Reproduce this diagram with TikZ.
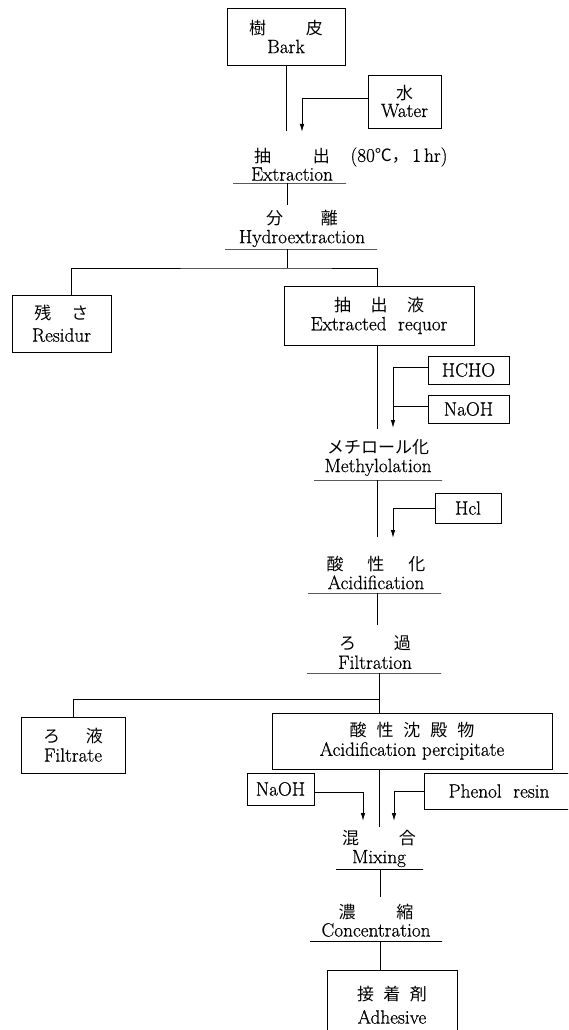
\documentclass[tikz,border=0pt]{standalone}
\usepackage{fontspec}
\setmainfont{Latin Modern Roman}[FakeBold=0.6]
\newfontfamily\jp{Noto Sans CJK JP}
\usetikzlibrary{arrows.meta}
\newcommand\J[1]{{\jp\fontsize{17}{19}\selectfont #1}}
\begin{document}
\begin{tikzpicture}[x=1pt,y=-1pt, line width=0.9pt,
  txt/.style={inner sep=0pt, align=center, font=\fontsize{19.2}{19}\selectfont},
  box/.style={draw, line width=0.9pt, inner sep=0pt, align=center, font=\fontsize{19.2}{19}\selectfont},
  ul/.style={draw, line width=0.9pt, inner sep=0pt, outer sep=0pt, minimum height=0pt},
  arr/.style={-{Latex[length=8pt,width=4.5pt]}}]
\clip (0,0) rectangle (568,1030);
% boxes
\node[box, minimum width=118pt, minimum height=57pt] (bark) at (286,36.5) {\J{樹\hspace{40pt}皮}\\Bark};
\node[box, minimum width=73pt, minimum height=53pt] (water) at (404.5,101.5) {\J{水}\\[-2pt]Water};
\node[box, minimum width=99pt, minimum height=57pt] (residue) at (61.5,323.5) {\J{残\hspace{20pt}さ}\\[3pt]Residur};
\node[box, minimum width=190pt, minimum height=59pt] (extracted) at (379,315.5) {\J{抽\hspace{19.5pt}出\hspace{19.5pt}液}\\Extracted\ \ requor};
\node[box, minimum width=81pt, minimum height=28pt] (hcho) at (468.5,370) {HCHO};
\node[box, minimum width=81pt, minimum height=28pt] (naoh1) at (468.5,409) {NaOH};
\node[box, minimum width=66pt, minimum height=30pt] (hcl) at (468,508) {Hcl};
\node[box, minimum width=104pt, minimum height=56pt] (filtrate) at (73,745) {\J{ろ\hspace{26pt}液}\\Filtrate};
\node[box, minimum width=280pt, minimum height=56pt] (precip) at (412,741) {\J{酸\hspace{10pt}性\hspace{10pt}沈\hspace{10pt}殿\hspace{10pt}物}\\Acidification\ percipitate};
\node[box, minimum width=67pt, minimum height=32pt] (naoh2) at (280.5,789) {NaOH};
\node[box, minimum width=150pt, minimum height=36pt] (phenol) at (499,791) {Phenol\ \ resin};
\node[box, minimum width=130pt, minimum height=70pt] (adhesive) at (392,1005) {\J{接\hspace{9.5pt}着\hspace{9.5pt}剤}\\[4pt]Adhesive};
% step labels
\node[txt] (ext) at (292,164.5) {\J{抽\hspace{42pt}出}\\[-1pt]Extraction};
\node[txt] (cond) at (399,157) {(80\J{℃，}\,1\,hr)};
\node[txt] (hyd) at (302,228.5) {\J{分\hspace{38pt}離}\\Hydroextraction};
\node[txt] (meth) at (378,457.5) {\J{メチロール化}\\Methylolation};
\node[txt] (acid) at (376,572.5) {\J{酸\hspace{24pt}性\hspace{24pt}化}\\Acidification};
\node[txt] (filt) at (375,652.5) {\J{ろ\hspace{38pt}過}\\Filtration};
\node[txt] (mix) at (379,848.5) {\J{混\hspace{40pt}合}\\Mixing};
\node[txt] (conc) at (376,920.5) {\J{濃\hspace{41pt}縮}\\[-1pt]Concentration};
% underlines
\node[ul, minimum width=113pt] (u1) at (289.5,183) {};
\node[ul, minimum width=152pt] (u2) at (301,249) {};
\node[ul, minimum width=128pt] (u3) at (378,480) {};
\node[ul, minimum width=133pt] (u4) at (374.5,593) {};
\node[ul, minimum width=134pt] (u5) at (374,673) {};
\node[ul, minimum width=87pt] (u6) at (379.5,869) {};
\node[ul, minimum width=132pt] (u7) at (376,941) {};
% free ends / junctions
\coordinate (c1) at (286,131);
\coordinate (c2) at (302,132);
\coordinate (c3) at (287,205);
\coordinate (j1) at (287,268);
\coordinate (c5) at (377,429);
\coordinate (c6) at (393,428);
\coordinate (c7) at (377,537);
\coordinate (c8) at (393,538);
\coordinate (c9) at (377,625);
\coordinate (j2) at (379,699);
\coordinate (c11) at (379,827);
\coordinate (c12) at (363,821);
\coordinate (c13) at (394,821);
\coordinate (c14) at (380,897);
% connectors
\draw (bark.south) -- (c1);
\draw[arr] ([yshift=3.5pt]water.west) -| (c2);
\draw (u1.south -| c3) -- (c3);
\draw (u2.south -| j1) -- (j1);
\draw ([xshift=9.5pt]residue.north) |- (j1) -| (extracted.north -| c5);
\draw (extracted.south -| c5) -- (c5);
\draw[arr] ([yshift=3pt]hcho.west) -| (c6);
\draw ([yshift=3pt]naoh1.west) -- ([yshift=3pt]naoh1.west -| c6);
\draw (u3.south -| c7) -- (c7);
\draw[arr] (hcl.west) -| (c8);
\draw (u4.south -| c9) -- (c9);
\draw (u5.south -| j2) -- (j2 |- precip.north);
\draw (filtrate.north) |- (j2);
\draw (precip.south -| c11) -- (c11);
\draw[arr] ([yshift=-3pt]naoh2.east) -| (c12);
\draw[arr] (phenol.west) -| (c13);
\draw (u6.south -| c14) -- (c14);
\draw (u7.south -| c14) -- (c14 |- adhesive.north);
\end{tikzpicture}
\end{document}
